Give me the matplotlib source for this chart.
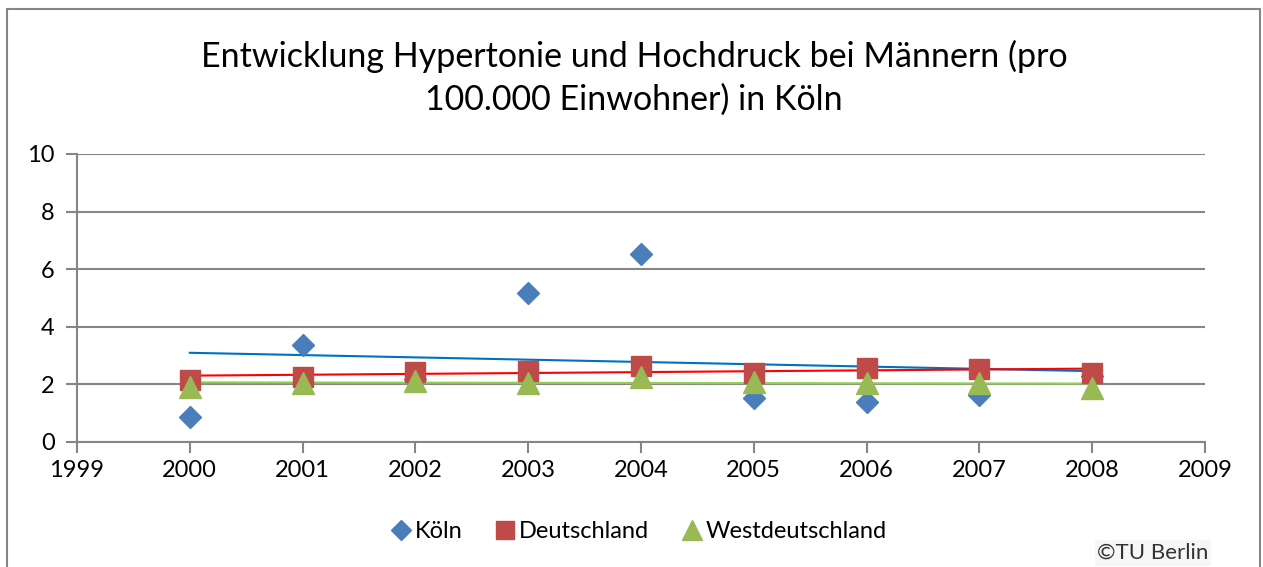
import numpy as np
import matplotlib
matplotlib.use("Agg")
import matplotlib.pyplot as plt
from matplotlib.patches import Rectangle

years = [2000, 2001, 2002, 2003, 2004, 2005, 2006, 2007, 2008]
koeln = [0.88, 3.37, 2.2, 5.17, 6.53, 1.53, 1.40, 1.63, 2.3]
deutschland = [2.15, 2.27, 2.44, 2.48, 2.65, 2.38, 2.56, 2.53, 2.38]
westdeutschland = [1.92, 2.04, 2.13, 2.04, 2.27, 2.09, 2.06, 2.04, 1.86]

plt.rcParams['font.family'] = ['Lato', 'DejaVu Sans']

fig = plt.figure(figsize=(12.63, 5.67), dpi=100)
ax = fig.add_axes([77/1263, 1-442/567, (1205-77)/1263, (442-154)/567])

grid_c = '#868686'
fig.patches.append(Rectangle((7/1263, -0.1), (1260-7)/1263, 1.1-9/567,
                             transform=fig.transFigure, fill=False,
                             edgecolor=grid_c, linewidth=1.5))

x = np.array(years)
series = [
    (koeln, 'D', '#4a7ebb', '#0070c0', 'Köln', 11.5),
    (deutschland, 's', '#be4b48', '#ff0000', 'Deutschland', 14.5),
    (westdeutschland, '^', '#98b954', '#92d050', 'Westdeutschland', 16),
]
# trend lines first, markers on top
for vals, m, c, tc, lab, ms in series:
    k, d = np.polyfit(x, vals, 1)
    ax.plot(x, k*x + d, color=tc, linewidth=1.5, zorder=2)
for vals, m, c, tc, lab, ms in series:
    ax.plot(x, vals, linestyle='none', marker=m, color=c, markersize=ms,
            label=lab, zorder=3)

ax.set_xlim(1999, 2009)
ax.set_ylim(0, 10)
ax.set_xticks(range(1999, 2010))
ax.set_yticks(range(0, 11, 2))
ax.yaxis.grid(True, color=grid_c, linewidth=1.5)
ax.set_axisbelow(True)
for s in ['top', 'right']:
    ax.spines[s].set_visible(False)
for s in ['left', 'bottom']:
    ax.spines[s].set_color(grid_c)
    ax.spines[s].set_linewidth(1.5)
ax.tick_params(axis='both', colors=grid_c, width=1.5, length=8,
               labelcolor='black', labelsize=17)
ax.tick_params(axis='x', pad=5)
ax.tick_params(axis='y', pad=8)

fig.text(634/1263, 1-78/567,
         'Entwicklung Hypertonie und Hochdruck bei Männern (pro\n100.000 Einwohner) in Köln',
         ha='center', va='center', fontsize=24.5, linespacing=1.38)

fig.legend(loc='center', bbox_to_anchor=(638/1263, 1-532/567), ncol=3,
           frameon=False, fontsize=17, handletextpad=0.1, columnspacing=1.3,
           handlelength=1.0, markerscale=0.9)

fig.text(1153/1263, 1-553/567, '©TU Berlin', ha='center', va='center',
         fontsize=16, color='#333333',
         bbox=dict(facecolor='#f6f6f6', edgecolor='none', pad=2))

fig.savefig('out.png', dpi=100)
